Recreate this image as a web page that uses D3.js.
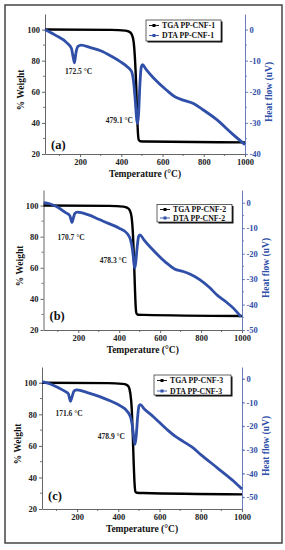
<!DOCTYPE html>
<html>
<head>
<meta charset="utf-8">
<script src="https://cdn.jsdelivr.net/npm/d3@7"></script>
<style>
  body { margin: 0; background: #fff; }
  svg text { font-family: 'Liberation Serif', 'DejaVu Serif', serif !important; font-weight: bold; }
</style>
</head>
<body>
<div id="chart"></div>
<script>
// temperature / % weight (TGA) and temperature / heat flow (DTA)
var tga1 = [[30,100],[350,99.8],[420,99.3],[440,98.5],[452,96.5],[460,92],[466,82],[472,65],[477,45],[481,33],[485,29],[492,28.2],[520,28],[1000,27.5]];
var dta1 = [[30,0],[80,-1.8],[135,-4.2],[158,-6],[167,-9],[173,-10.7],[180,-7.5],[190,-5.4],[205,-5],[250,-5.8],[300,-6.8],[350,-8.5],[395,-10.3],[430,-12],[450,-13.5],[460,-17],[468,-23],[475,-29],[479,-30.2],[484,-27],[490,-18],[497,-12],[503,-11.3],[520,-12.8],[560,-15.8],[620,-19.5],[660,-21.6],[700,-22.7],[750,-23.8],[790,-25.5],[860,-28.8],[940,-33.6],[1000,-37]];

var tga2 = [[30,100],[350,99.8],[420,99.3],[440,98.5],[452,96.8],[460,93],[466,84],[472,66],[477,46],[481,34],[485,30.5],[492,29.8],[520,29.7],[1000,29]];
var dta2 = [[30,0],[60,-0.4],[100,-1.8],[140,-4],[158,-5],[164,-6.5],[169,-7.8],[175,-6.3],[183,-4.2],[195,-3.7],[250,-4.8],[300,-6.5],[350,-8.2],[400,-10],[440,-12.2],[455,-14.5],[463,-17.5],[470,-22],[475,-25.7],[480,-24],[487,-18],[495,-13.2],[502,-12.6],[520,-14.5],[570,-19],[630,-23.6],[670,-26],[713,-27],[750,-28.2],[795,-30.3],[840,-33.2],[880,-36.4],[920,-38.8],[960,-41.6],[995,-44.8]];

var tga3 = [[30,100],[350,99.8],[420,99.3],[438,98.8],[450,97.5],[458,93.5],[465,84],[470,68],[475,48],[479,36],[483,31],[490,30.3],[520,30.1],[1000,29.3]];
var dta3 = [[30,-1.2],[70,-2.2],[110,-3.8],[140,-5.2],[157,-6.2],[163,-8],[168,-9.5],[175,-7.8],[185,-5.2],[200,-4.7],[250,-5.8],[310,-7.5],[360,-9.3],[410,-11.4],[448,-14.2],[462,-17],[470,-21],[476,-25.5],[481,-27.7],[487,-24],[494,-16],[500,-11.5],[507,-10.9],[525,-12.6],[570,-16],[635,-21.3],[675,-24.2],[716,-26.5],[760,-29],[800,-32],[880,-37.6],[960,-43.3],[1000,-46.6]];

var xTicks = [200, 400, 600, 800, 1000];
var wTicks = [20, 40, 60, 80, 100];
var hfTicks1 = [0, -10, -20, -30, -40];
var hfTicks2 = [0, -10, -20, -30, -40, -50];
var hfTicks3 = [0, -10, -20, -30, -40, -50];
var panelLetters = ["(a)", "(b)", "(c)"];
var tgaNames = ["TGA PP-CNF-1", "TGA PP-CNF-2", "TGA PP-CNF-3"];
var dtaNames = ["DTA PP-CNF-1", "DTA PP-CNF-2", "DTA PP-CNF-3"];
var peakLow = ["172.5 °C", "170.7 °C", "171.6 °C"];
var peakHigh = ["479.1 °C", "478.3 °C", "478.9 °C"];

var W = 285, H = 550;
var blue = "#2f4fa8", axisBlue = "#5a70b8";
var serif = "'Liberation Serif', 'DejaVu Serif', serif";

var svg = d3.select("#chart").append("svg")
  .attr("width", W).attr("height", H)
  .attr("font-family", serif).attr("font-weight", "bold");

svg.append("rect").attr("x", 5).attr("y", 5).attr("width", 277).attr("height", 538)
  .attr("fill", "#fff").attr("stroke", "#444").attr("stroke-width", 1.5);

var panels = [
  { tga: tga1, dta: dta1, hf: [-40, 5], hfTicks: hfTicks1, l: 45, r: 245, t: 14, b: 154,
    low: [33.5, 59.5], high: [88, 108.5], letter: [6, 135], leg: [146, 20, 75, 21, 25.5, 35.5] },
  { tga: tga2, dta: dta2, hf: [-50, 5], hfTicks: hfTicks2, l: 43.5, r: 242, t: 190, b: 330,
    low: [27.5, 49.5], high: [83.5, 72.5], letter: [6, 130], leg: [157, 204.5, 75, 17.5, 209.5, 218] },
  { tga: tga3, dta: dta3, hf: [-55, 5], hfTicks: hfTicks3, l: 42, r: 242, t: 367, b: 509,
    low: [27, 48.5], high: [83, 71.5], letter: [6, 133], leg: [154, 375, 77, 20, 380.5, 391] }
];

function styleText(sel, size, color) {
  sel.attr("fill", color).style("font-size", size + "px")
    .style("font-family", serif).style("font-weight", "bold");
}

panels.forEach(function(p, i) {
  var x = d3.scaleLinear().domain([30, 1000]).range([p.l, p.r]);
  var yw = d3.scaleLinear().domain([20, 110]).range([p.b, p.t]);
  var yh = d3.scaleLinear().domain(p.hf).range([p.b, p.t]);
  var g = svg.append("g");

  // minor ticks
  g.selectAll(".mx").data(d3.range(100, 1000, 200)).enter().append("line")
    .attr("x1", d => x(d)).attr("x2", d => x(d)).attr("y1", p.b).attr("y2", p.b + 2)
    .attr("stroke", "#555").attr("stroke-width", 0.8);
  g.selectAll(".my").data(d3.range(30, 110, 20)).enter().append("line")
    .attr("x1", p.l - 2).attr("x2", p.l).attr("y1", d => yw(d)).attr("y2", d => yw(d))
    .attr("stroke", "#555").attr("stroke-width", 0.8);
  g.selectAll(".mh").data(d3.range(p.hf[0] + 5, 5, 10)).enter().append("line")
    .attr("x1", p.r).attr("x2", p.r + 2).attr("y1", d => yh(d)).attr("y2", d => yh(d))
    .attr("stroke", axisBlue).attr("stroke-width", 0.8);

  var ax = g.append("g").attr("transform", "translate(0," + p.b + ")")
    .call(d3.axisBottom(x).tickValues(xTicks).tickFormat(d3.format("d")).tickSize(3).tickPadding(2).tickSizeOuter(0));
  var ayl = g.append("g").attr("transform", "translate(" + p.l + ",0)")
    .call(d3.axisLeft(yw).tickValues(wTicks).tickFormat(d3.format("d")).tickSize(3).tickPadding(2).tickSizeOuter(0));
  var ayr = g.append("g").attr("transform", "translate(" + p.r + ",0)")
    .call(d3.axisRight(yh).tickValues(p.hfTicks).tickFormat(d => d < 0 ? "-" + (-d) : d).tickSize(3).tickPadding(1.5).tickSizeOuter(0));

  [ax, ayl].forEach(function(a) {
    a.attr("font-family", serif);
    a.selectAll("path,line").attr("stroke", "#555").attr("stroke-width", 0.9);
    styleText(a.selectAll("text"), 8.5, "#222");
  });
  ayr.attr("font-family", serif);
  ayr.selectAll("path,line").attr("stroke", axisBlue).attr("stroke-width", 0.9);
  styleText(ayr.selectAll("text"), 8.5, blue);

  // curves
  var lineT = d3.line().x(d => x(d[0])).y(d => yw(d[1])).curve(d3.curveMonotoneX);
  var lineD = d3.line().x(d => x(d[0])).y(d => yh(d[1])).curve(d3.curveMonotoneX);
  g.append("path").datum(p.tga).attr("d", lineT)
    .attr("fill", "none").attr("stroke", "#000").attr("stroke-width", 2.4);
  g.append("path").datum(p.dta).attr("d", lineD)
    .attr("fill", "none").attr("stroke", blue).attr("stroke-width", 2.8);

  // titles
  styleText(g.append("text").attr("x", (p.l + p.r) / 2).attr("y", p.b + 23)
    .attr("text-anchor", "middle").text("Temperature (°C)"), 9.5, "#111");
  styleText(g.append("text").attr("transform", "translate(" + (p.l - 21) + "," + ((p.t + p.b) / 2 + 6) + ") rotate(-90)")
    .attr("text-anchor", "middle").text("% Weight"), 9.5, "#111");
  styleText(g.append("text").attr("transform", "translate(" + (p.r + 27) + "," + ((p.t + p.b) / 2 + 8) + ") rotate(-90)")
    .attr("text-anchor", "middle").text("Heat flow (uV)"), 9.5, blue);

  // panel letter
  styleText(g.append("text").attr("x", p.l + p.letter[0]).attr("y", p.t + p.letter[1])
    .text(panelLetters[i]), 12.5, "#111");

  // peak labels
  styleText(g.append("text").attr("x", p.l + p.low[0]).attr("y", p.t + p.low[1])
    .attr("text-anchor", "middle").text(peakLow[i]), 7.5, "#222");
  styleText(g.append("text").attr("x", p.l + p.high[0]).attr("y", p.t + p.high[1])
    .attr("text-anchor", "end").text(peakHigh[i]), 7.5, "#222");

  // legend
  var L = p.leg;
  g.append("rect").attr("x", L[0] + 1.5).attr("y", L[1] + 1.5).attr("width", L[2]).attr("height", L[3]).attr("fill", "#111");
  g.append("rect").attr("x", L[0]).attr("y", L[1]).attr("width", L[2]).attr("height", L[3])
    .attr("fill", "#fff").attr("stroke", "#222").attr("stroke-width", 0.7);
  [[L[4], "#000", tgaNames[i]], [L[5], blue, dtaNames[i]]].forEach(function(e) {
    g.append("line").attr("x1", L[0] + 3).attr("x2", L[0] + 13).attr("y1", e[0]).attr("y2", e[0])
      .attr("stroke", e[1]).attr("stroke-width", 0.9);
    g.append("rect").attr("x", L[0] + 6.5).attr("y", e[0] - 1.5).attr("width", 3).attr("height", 3).attr("fill", e[1]);
    styleText(g.append("text").attr("x", L[0] + 16).attr("y", e[0] + 2.8).text(e[2]), 7.8, "#111");
  });
});
</script>
</body>
</html>
